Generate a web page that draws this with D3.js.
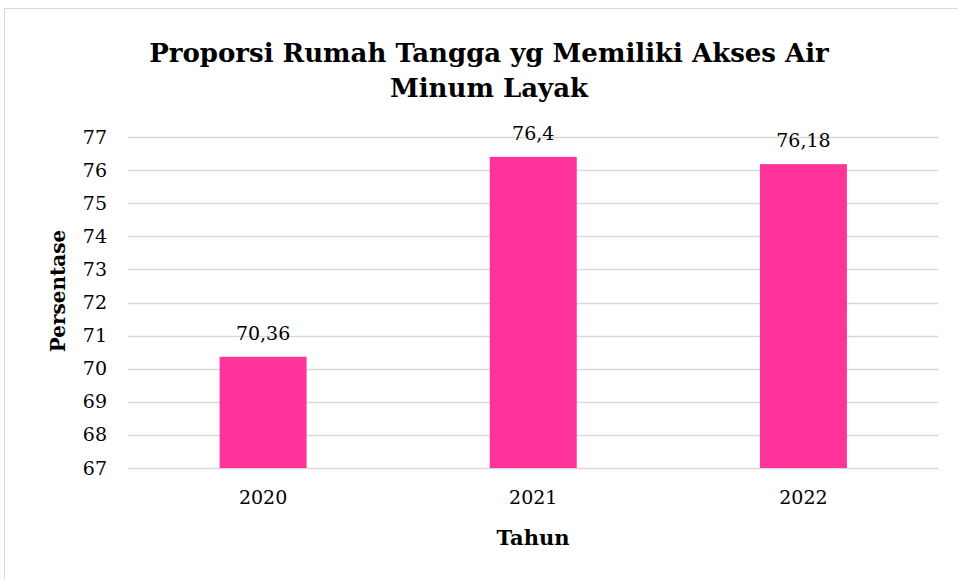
<!DOCTYPE html>
<html>
<head>
<meta charset="utf-8">
<script src="https://cdn.jsdelivr.net/npm/d3@7"></script>
<style>
  body { margin: 0; background: #fff; }
  text { font-family: "DejaVu Serif", "Liberation Serif", serif; }
</style>
</head>
<body>
<svg></svg>
<script>
const years = ["2020", "2021", "2022"];
const values = [70.36, 76.4, 76.18];
const valueLabels = ["70,36", "76,4", "76,18"];
const yTicks = [67, 68, 69, 70, 71, 72, 73, 74, 75, 76, 77];

const width = 958;
const height = 579;
const margin = { top: 137, right: 20, bottom: 111, left: 128 };

const svg = d3.select("svg")
    .attr("width", width)
    .attr("height", height);

// chart area border
svg.append("rect")
    .attr("x", 4.5).attr("y", 8.5)
    .attr("width", 1000).attr("height", 1000)
    .attr("fill", "#fff")
    .attr("stroke", "#d9d9d9");

const x = d3.scaleBand()
    .domain(years)
    .range([margin.left, 938.5])
    .paddingInner(0.678)
    .paddingOuter(0.339);

const y = d3.scaleLinear()
    .domain([67, 77])
    .range([468, margin.top]);

// gridlines
svg.append("g")
    .selectAll("line")
    .data(yTicks)
    .enter()
    .append("line")
    .attr("x1", margin.left)
    .attr("x2", 938.5)
    .attr("y1", d => Math.round(y(d)) + 0.5)
    .attr("y2", d => Math.round(y(d)) + 0.5)
    .attr("stroke", "#d9d9d9")
    .attr("stroke-width", 1.5);

// y tick labels
const yAxis = svg.append("g")
    .attr("transform", `translate(${margin.left},0)`)
    .call(d3.axisLeft(y).tickValues(yTicks).tickSize(0).tickPadding(21).tickFormat(d3.format("d")));
yAxis.select(".domain").remove();
yAxis.selectAll("text")
    .attr("font-family", "DejaVu Serif")
    .attr("font-size", 19)
    .attr("fill", "#000");

// x tick labels
const xAxis = svg.append("g")
    .attr("transform", `translate(0,468)`)
    .call(d3.axisBottom(x).tickSize(0).tickPadding(23));
xAxis.select(".domain").remove();
xAxis.selectAll("text")
    .attr("font-family", "DejaVu Serif")
    .attr("font-size", 19)
    .attr("fill", "#000");

// bars
svg.append("g")
    .selectAll("rect")
    .data(values)
    .enter()
    .append("rect")
    .attr("x", (d, i) => x(years[i]))
    .attr("y", d => y(d))
    .attr("width", x.bandwidth())
    .attr("height", d => y(67) - y(d))
    .attr("fill", "#ff3399");

// value labels
svg.append("g")
    .selectAll("text")
    .data(values)
    .enter()
    .append("text")
    .attr("x", (d, i) => x(years[i]) + x.bandwidth() / 2)
    .attr("y", d => y(d) - 17)
    .attr("text-anchor", "middle")
    .attr("font-size", 19)
    .attr("fill", "#000")
    .text((d, i) => valueLabels[i]);

// title
const title = svg.append("text")
    .attr("text-anchor", "middle")
    .attr("font-size", 26)
    .attr("font-weight", "bold")
    .attr("fill", "#000");
title.append("tspan").attr("x", 489).attr("y", 62).text("Proporsi Rumah Tangga yg Memiliki Akses Air");
title.append("tspan").attr("x", 489).attr("y", 97).text("Minum Layak");

// axis titles
svg.append("text")
    .attr("x", 533)
    .attr("y", 545)
    .attr("text-anchor", "middle")
    .attr("font-size", 21)
    .attr("font-weight", "bold")
    .text("Tahun");

svg.append("text")
    .attr("transform", "translate(65,291) rotate(-90)")
    .attr("text-anchor", "middle")
    .attr("font-size", 20)
    .attr("font-weight", "bold")
    .text("Persentase");
</script>
</body>
</html>
